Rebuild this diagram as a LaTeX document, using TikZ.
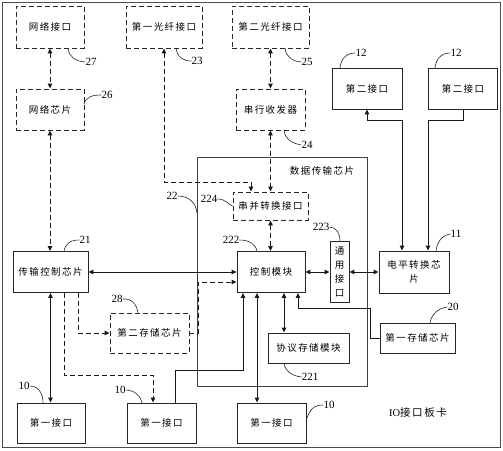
\documentclass[tikz,border=0pt]{standalone}
\usepackage{fontspec}
\setmainfont{Liberation Serif}
\newfontfamily\cjk[LetterSpace=15]{Noto Sans CJK SC}
\usetikzlibrary{arrows.meta,calc}
\begin{document}
\begin{tikzpicture}[x=1pt,y=-1pt,
  >={Triangle[length=5pt,width=4.5pt]},
  sbox/.style={draw=black!85, line width=0.9pt, inner sep=0pt, align=center,
    font=\cjk\fontsize{9.5}{14}\selectfont},
  dbox/.style={sbox, line width=0.95pt, dash pattern=on 5pt off 3pt},
  num/.style={inner sep=0pt, font=\fontsize{11}{12}\selectfont},
  lead/.style={line width=0.6pt, draw=black!85},
  sl/.style={line width=1pt, draw=black!90},
  dl/.style={line width=0.95pt, draw=black!90, dash pattern=on 5pt off 3pt}]
\useasboundingbox (0,0) rectangle (503,450);
\draw[line width=1pt, black!70] (2,2) rectangle (500,447);
% container
\node[draw=black!75, line width=0.7pt, minimum width=170pt, minimum height=229pt, inner sep=0pt] (dtc) at (282,271.5) {};
\node[inner sep=0pt, font=\cjk\fontsize{9.5}{12}\selectfont] (dtclabel) at (322,171) {数据传输芯片};
% boxes
\node[dbox, minimum width=68pt, minimum height=42pt] (netif) at (50,27) {网络接口};
\node[dbox, minimum width=68pt, minimum height=41pt] (netchip) at (50,109.5) {网络芯片};
\node[dbox, minimum width=76pt, minimum height=42pt] (fiber1) at (164,27) {第一光纤接口};
\node[dbox, minimum width=77pt, minimum height=42pt] (fiber2) at (270.5,27) {第二光纤接口};
\node[dbox, minimum width=69pt, minimum height=41pt] (serdes) at (270.5,109.5) {串行收发器};
\node[sbox, minimum width=70pt, minimum height=41pt] (if2a) at (367,88.5) {第二接口};
\node[sbox, minimum width=69pt, minimum height=41pt] (if2b) at (463,88.5) {第二接口};
\node[dbox, minimum width=75pt, minimum height=28pt] (sp) at (270.5,206) {串并转换接口};
\node[sbox, minimum width=68pt, minimum height=41pt] (ctrl) at (271,272) {控制模块};
\node[sbox, minimum width=19pt, minimum height=61pt] (gen) at (339.5,272) {通\\用\\接\\口};
\node[sbox, minimum width=70pt, minimum height=42pt] (level) at (414,272) {电平转换芯\\片};
\node[sbox, minimum width=81pt, minimum height=30pt] (proto) at (308.5,348) {协议存储模块};
\node[sbox, minimum width=75pt, minimum height=30pt] (mem1) at (417.5,338) {第一存储芯片};
\node[sbox, minimum width=75pt, minimum height=41pt] (tcc) at (50.5,272) {传输控制芯片};
\node[dbox, minimum width=79pt, minimum height=40pt] (mem2) at (149.5,333) {第二存储芯片};
\node[sbox, minimum width=68pt, minimum height=40pt] (ifa) at (51,423) {第一接口};
\node[sbox, minimum width=69pt, minimum height=40pt] (ifb) at (161.5,423) {第一接口};
\node[sbox, minimum width=69pt, minimum height=40pt] (ifc) at (271.5,423) {第一接口};
\node[inner sep=0pt, font=\fontsize{10.5}{12}\selectfont] (card) at (418,413) {IO{\cjk 接口板卡}};
% numbers
\node[num] (n27) at (91,62) {27};
\node[num] (n26) at (107,95) {26};
\node[num] (n23) at (197,61) {23};
\node[num] (n25) at (307,62) {25};
\node[num] (n24) at (307,145) {24};
\node[num] (n12a) at (361,53) {12};
\node[num] (n12b) at (456,53) {12};
\node[num] (n22) at (172,196) {22};
\node[num] (n224) at (209,199) {224};
\node[num] (n222) at (231,240) {222};
\node[num] (n223) at (321,227) {223};
\node[num] (n11) at (456,234) {11};
\node[num] (n20) at (453,307) {20};
\node[num] (n221) at (310,377) {221};
\node[num] (n21) at (85,240) {21};
\node[num] (n28) at (117,299) {28};
\node[num] (n10a) at (24,386) {10};
\node[num] (n10b) at (120,390) {10};
\node[num] (n10c) at (329,405) {10};
% leaders
\draw[lead] (68,48) .. controls (69,57) and (75,61) .. (n27.west);
\draw[lead] (84,104) .. controls (86,97) and (92,95) .. (n26.west);
\draw[lead] (176,48) .. controls (177,57) and (183,61) .. (n23.west);
\draw[lead] (285,48) .. controls (286,57) and (292,61) .. (n25.west);
\draw[lead] (284,130) .. controls (285,139) and (291,143) .. (n24.west);
\draw[lead] (340,68) .. controls (341,59) and (346,53) .. (n12a.west);
\draw[lead] (435,68) .. controls (436,59) and (441,53) .. (n12b.west);
\draw[lead] (n22.east) .. controls (189,196) and (196,203) .. (197,213);
\draw[lead] (n224.east) .. controls (226,199) and (229,205) .. (sp.west);
\draw[lead] (n222.east) .. controls (249,240) and (256,244) .. (257,251.5);
\draw[lead] (n223.east) .. controls (336,227) and (340,233) .. (340,241.5);
\draw[lead] (n11.west) .. controls (442,235) and (437,242) .. (436,251);
\draw[lead] (n20.west) .. controls (438,308) and (431,315) .. (430,323);
\draw[lead] (284,363) .. controls (285,371) and (292,376) .. (n221.west);
\draw[lead] (64,251.5) .. controls (65,244) and (70,240) .. (n21.west);
\draw[lead] (n28.east) .. controls (132,298) and (137,305) .. (138,313);
\draw[lead] (n10a.east) .. controls (39,386) and (43,394) .. (43,403);
\draw[lead] (n10b.east) .. controls (134,390) and (141,396) .. (142,403);
\draw[lead] (306.5,419) .. controls (310,410) and (313,405) .. (n10c.west);
% dashed connectors
\draw[dl,<->] (netif.south) -- (netchip.north);
\draw[dl,<->] (netchip.south) -- (tcc.north -| netchip.south);
\coordinate (f1) at (251,182);
\draw[dl,<->] (fiber1.south) |- (f1) -- (f1 |- sp.north);
\draw[dl,<->] (fiber2.south) -- (serdes.north);
\draw[dl,<->] (serdes.south) -- (sp.north);
\draw[dl,<->] (sp.south) -- (sp.south |- ctrl.north);
\coordinate (t1) at (78,333);
\draw[dl,->] (t1 |- tcc.south) -- (t1) -- (mem2.west);
\coordinate (t2) at (64,375);
\coordinate (t3) at (153,375);
\draw[dl,->] (t2 |- tcc.south) -- (t2) -- (t3) -- (t3 |- ifb.north);
\coordinate (m2) at (198,333);
\draw[dl,->] (mem2.east) -- (m2) |- ([yshift=-10pt]ctrl.west);
% solid connectors
\draw[sl,<->] (tcc.east) -- (ctrl.west);
\draw[sl,<->] (ctrl.east) -- (gen.west);
\draw[sl,<->] (gen.east) -- (level.west);
\coordinate (k1) at (367,120);
\coordinate (k2) at (402,120);
\draw[sl,<->] (if2a.south) -- (k1) -- (k2) -- (k2 |- level.north);
\coordinate (k3) at (463,120);
\coordinate (k4) at (428,120);
\draw[sl,->] (if2b.south) -- (k3) -- (k4) -- (k4 |- level.north);
\draw[sl,<->] (tcc.south) -- (tcc.south |- ifa.north);
\coordinate (b1) at (175,370);
\coordinate (b2) at (243,370);
\draw[sl,->] (b1 |- ifb.north) -- (b1) -- (b2) -- (b2 |- ctrl.south);
\coordinate (c1) at (257,350);
\draw[sl,<->] (c1 |- ctrl.south) -- (c1 |- ifc.north);
\coordinate (c2) at (284,310);
\draw[sl,<->] (c2 |- ctrl.south) -- (c2 |- proto.north);
\coordinate (e1) at (370,338);
\coordinate (e2) at (370,308);
\coordinate (e3) at (298,308);
\draw[sl,->] (mem1.west) -- (e1) -- (e2) -- (e3) -- (e3 |- ctrl.south);
\end{tikzpicture}
\end{document}
